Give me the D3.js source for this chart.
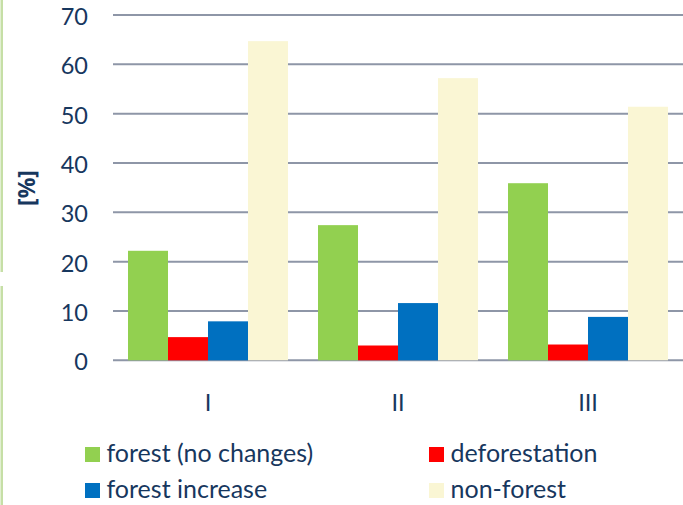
<!DOCTYPE html>
<html>
<head>
<meta charset="utf-8">
<script src="https://cdn.jsdelivr.net/npm/d3@7"></script>
<style>
  html, body { margin: 0; padding: 0; background: #ffffff; }
  svg { display: block; }
  text { font-family: Lato, "Open Sans", "Liberation Sans", sans-serif; fill: #17375e; }
</style>
</head>
<body>
<svg id="chart" width="683" height="505"></svg>
<script>
// Periods on the x axis
const periods = ["I", "II", "III"];
// Land-cover classes (series) and their colours
const seriesNames = ["forest (no changes)", "deforestation", "forest increase", "non-forest"];
const seriesColors = ["#92d050", "#ff0000", "#0070c0", "#faf6d4"];
// Share of area per class [%], one value per period
const forestNoChanges = [22.2, 27.4, 35.9];
const deforestation   = [4.7, 3.0, 3.2];
const forestIncrease  = [7.9, 11.6, 8.8];
const nonForest       = [64.7, 57.2, 51.4];
const yTicks = [0, 10, 20, 30, 40, 50, 60, 70];
const yLabel = "[%]";

const seriesValues = [forestNoChanges, deforestation, forestIncrease, nonForest];
const rows = periods.map((p, i) => ({
  period: p,
  values: seriesNames.map((s, j) => ({ series: s, value: seriesValues[j][i], color: seriesColors[j] }))
}));

const svg = d3.select("#chart");

// decorative side rules at the left edge
svg.append("rect").attr("x", 0.5).attr("y", 0).attr("width", 2.5).attr("height", 272).attr("fill", "#c6dfa6");
svg.append("rect").attr("x", 0.5).attr("y", 286).attr("width", 2.5).attr("height", 219).attr("fill", "#c6dfa6");

const plotLeft = 113, plotRight = 683, plotTop = 15, plotBottom = 360.3;

const y = d3.scaleLinear().domain([0, 70]).range([plotBottom, plotTop]);
const x0 = d3.scaleBand().domain(periods).range([plotLeft, plotRight])
  .paddingInner(0.158).paddingOuter(0.079);
const x1 = d3.scaleBand().domain(seriesNames).range([0, x0.bandwidth()]).padding(0);

// gridlines
svg.append("g").selectAll("line").data(yTicks).join("line")
  .attr("x1", plotLeft).attr("x2", plotRight)
  .attr("y1", d => y(d)).attr("y2", d => y(d))
  .attr("stroke", "#8e96a7").attr("stroke-width", 2);

// y axis tick labels
const yAxis = d3.axisLeft(y).tickValues(yTicks).tickSize(0).tickPadding(0);
const gy = svg.append("g").attr("transform", "translate(88,0)").call(yAxis);
gy.select(".domain").remove();
gy.selectAll("text")
  .style("font-family", "Lato, 'Open Sans', sans-serif")
  .style("font-size", "23.5px").style("fill", "#17375e").attr("dy", "0.4em");

// y axis title
svg.append("text")
  .attr("transform", "translate(27,188) rotate(-90)")
  .attr("text-anchor", "middle").attr("dy", "0.35em")
  .style("font-family", "'Open Sans', 'DejaVu Sans', sans-serif")
  .style("font-size", "23px").style("font-weight", "bold")
  .text(yLabel);

// bars
svg.append("g").selectAll("g").data(rows).join("g")
  .attr("transform", d => `translate(${x0(d.period)},0)`)
  .selectAll("rect").data(d => d.values).join("rect")
  .attr("x", d => x1(d.series)).attr("width", x1.bandwidth())
  .attr("y", d => y(d.value)).attr("height", d => y(0) - y(d.value))
  .attr("fill", d => d.color);

// x axis category labels
const xAxis = d3.axisBottom(x0).tickSize(0).tickPadding(0);
const gx = svg.append("g").attr("transform", "translate(0,410.5)").call(xAxis);
gx.select(".domain").remove();
gx.selectAll("text")
  .style("font-family", "Lato, 'Open Sans', sans-serif")
  .style("font-size", "23.5px").style("fill", "#17375e").attr("dy", 0);

// legend (two columns, two rows)
const legendPos = [[85, 447], [429, 447], [85, 483], [429, 483]];
const legend = svg.append("g").selectAll("g").data(seriesNames).join("g")
  .attr("transform", (d, i) => `translate(${legendPos[i][0]},${legendPos[i][1]})`);
legend.append("rect").attr("width", 15).attr("height", 15)
  .attr("fill", (d, i) => seriesColors[i]);
legend.append("text").attr("x", 21.5).attr("y", 15)
  .style("font-size", "25px").text(d => d);
</script>
</body>
</html>
